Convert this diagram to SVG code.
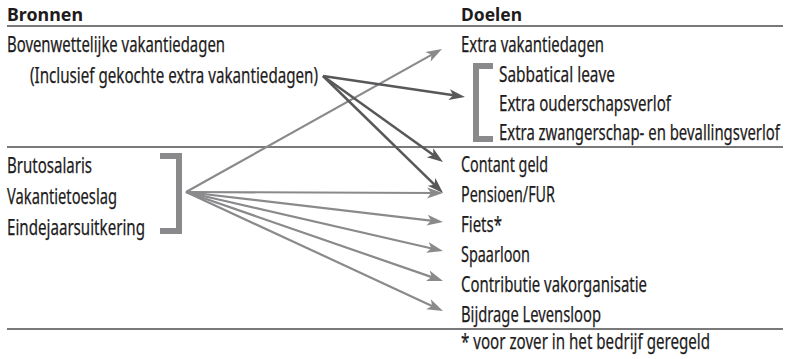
<svg xmlns="http://www.w3.org/2000/svg" width="787" height="359" viewBox="0 0 787 359">
<style>
text{font-family:"Noto Sans","Liberation Sans",sans-serif;font-size:21px;fill:#1e1b1c;stroke:#1e1b1c;stroke-width:0.25}
.h{font-weight:bold;font-size:18px;stroke-width:0}
.rule{stroke:#4d4d4f;stroke-width:1.5;fill:none}
.br{stroke:#8a8a8d;stroke-width:6;fill:none;stroke-linejoin:miter}
.g{stroke:#8a8a8d;stroke-width:2.2;fill:none;marker-end:url(#ag)}
.d{stroke:#58585a;stroke-width:2.5;fill:none;marker-end:url(#ad)}
</style>
<defs>
<marker id="ag" markerUnits="userSpaceOnUse" viewBox="-10 -8 20 16" markerWidth="20" markerHeight="16" refX="0" refY="0" orient="auto" overflow="visible"><path d="M8,0 L-8,-5.5 L-4,0 L-8,5.5 Z" fill="#8a8a8d"/></marker>
<marker id="ad" markerUnits="userSpaceOnUse" viewBox="-10 -8 20 16" markerWidth="20" markerHeight="16" refX="0" refY="0" orient="auto" overflow="visible"><path d="M8,0 L-8,-5.5 L-4,0 L-8,5.5 Z" fill="#58585a"/></marker>
</defs>
<g id="rules">
<line class="rule" x1="7" y1="26" x2="783" y2="26"/>
<line class="rule" x1="7" y1="147" x2="783" y2="147"/>
<line class="rule" x1="7" y1="329" x2="783" y2="329"/>
</g>
<g id="headers">
<text class="h" x="7" y="21" textLength="76" lengthAdjust="spacingAndGlyphs">Bronnen</text>
<text class="h" x="461" y="21" textLength="61" lengthAdjust="spacingAndGlyphs">Doelen</text>
</g>
<g id="src-vakantie">
<text x="7" y="52" textLength="218" lengthAdjust="spacingAndGlyphs">Bovenwettelijke vakantiedagen</text>
<text x="30" y="83" textLength="288" lengthAdjust="spacingAndGlyphs">(Inclusief gekochte extra vakantiedagen)</text>
</g>
<g id="src-salaris">
<text x="7" y="173" textLength="85" lengthAdjust="spacingAndGlyphs">Brutosalaris</text>
<text x="7" y="204" textLength="110" lengthAdjust="spacingAndGlyphs">Vakantietoeslag</text>
<text x="7" y="235" textLength="138" lengthAdjust="spacingAndGlyphs">Eindejaarsuitkering</text>
<path class="br" d="M160,156 L179,156 L179,231 L160,231"/>
</g>
<g id="doel-extra">
<text x="461" y="52" textLength="143" lengthAdjust="spacingAndGlyphs">Extra vakantiedagen</text>
</g>
<g id="doel-verlof">
<path class="br" d="M493,66 L476,66 L476,139 L493,139"/>
<text x="499" y="82" textLength="116" lengthAdjust="spacingAndGlyphs">Sabbatical leave</text>
<text x="499" y="111" textLength="172" lengthAdjust="spacingAndGlyphs">Extra ouderschapsverlof</text>
<text x="499" y="140" textLength="281" lengthAdjust="spacingAndGlyphs">Extra zwangerschap- en bevallingsverlof</text>
</g>
<g id="doel-contant"><text x="461" y="172" textLength="87" lengthAdjust="spacingAndGlyphs">Contant geld</text></g>
<g id="doel-pensioen"><text x="461" y="202" textLength="94" lengthAdjust="spacingAndGlyphs">Pensioen/FUR</text></g>
<g id="doel-fiets"><text x="461" y="232" textLength="41" lengthAdjust="spacingAndGlyphs">Fiets*</text></g>
<g id="doel-spaarloon"><text x="461" y="262" textLength="69" lengthAdjust="spacingAndGlyphs">Spaarloon</text></g>
<g id="doel-contributie"><text x="461" y="292" textLength="186" lengthAdjust="spacingAndGlyphs">Contributie vakorganisatie</text></g>
<g id="doel-levensloop"><text x="461" y="322" textLength="140" lengthAdjust="spacingAndGlyphs">Bijdrage Levensloop</text></g>
<g id="footnote"><text x="461" y="349" textLength="249" lengthAdjust="spacingAndGlyphs">* voor zover in het bedrijf geregeld</text></g>
<g id="connectors">
<line class="g" x1="186" y1="192" x2="435" y2="52.9"/>
<line class="g" x1="186" y1="192" x2="435" y2="193"/>
<line class="g" x1="186" y1="192" x2="435.05" y2="221.07"/>
<line class="g" x1="186" y1="192" x2="435.2" y2="249.2"/>
<line class="g" x1="186" y1="192" x2="435.44" y2="278.38"/>
<line class="g" x1="186" y1="192" x2="435.74" y2="307.64"/>
<line class="d" x1="323" y1="76" x2="457.08" y2="95.83"/>
<line class="d" x1="323" y1="76" x2="436.5" y2="157.34"/>
<line class="d" x1="323" y1="76" x2="437.27" y2="187.42"/>
</g>
</svg>
